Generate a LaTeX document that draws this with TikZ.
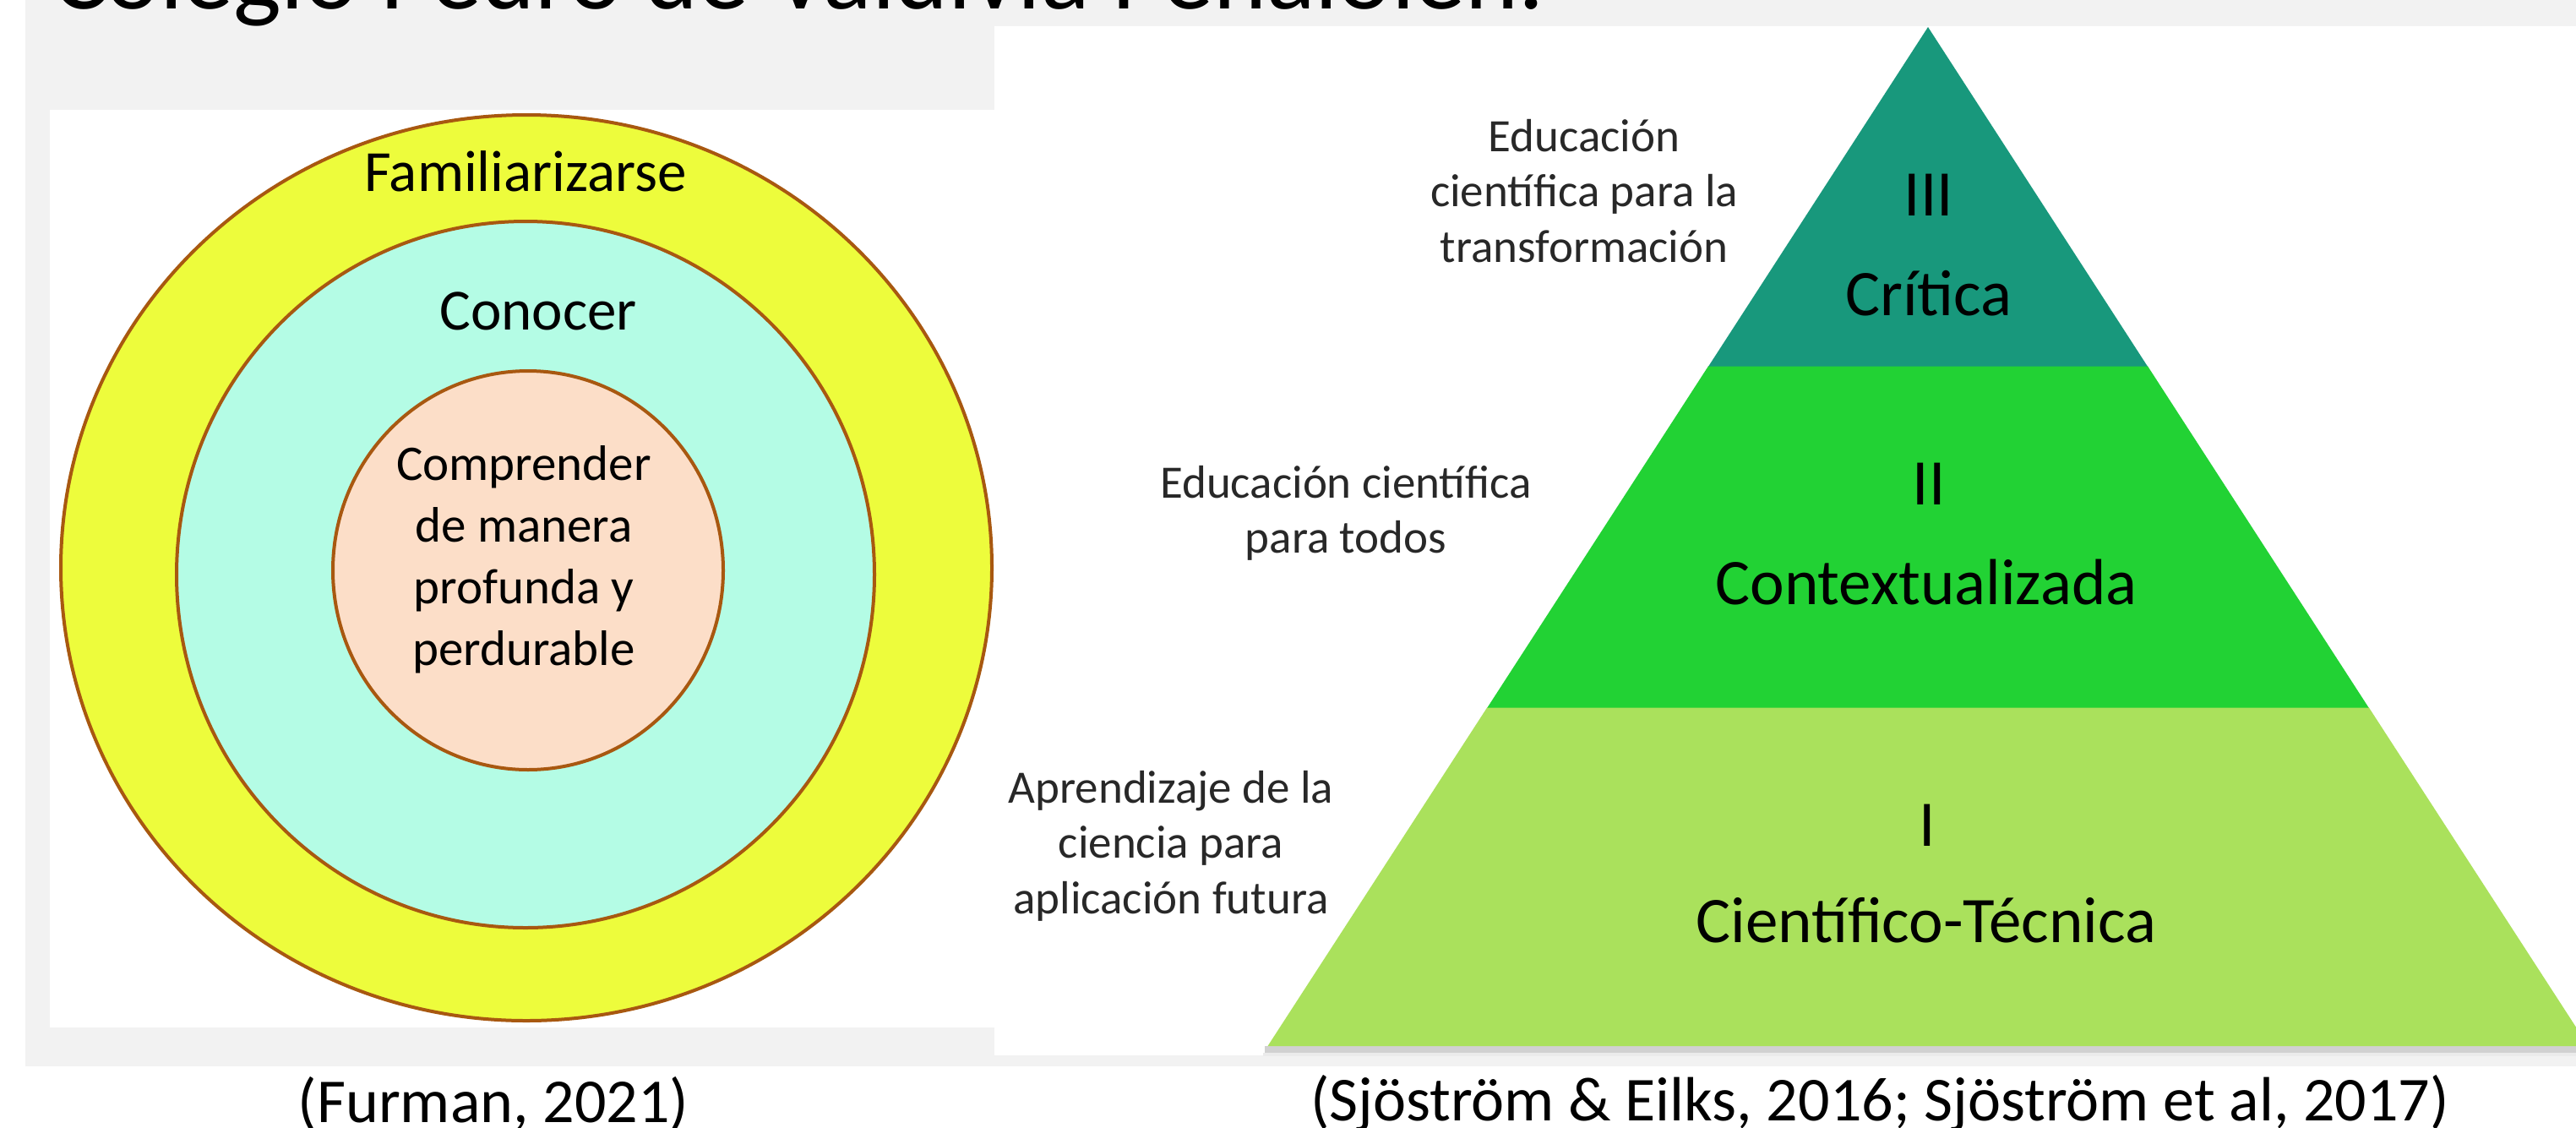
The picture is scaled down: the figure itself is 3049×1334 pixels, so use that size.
\documentclass[tikz,border=0pt]{standalone}
\usepackage{fontspec}
\setmainfont{Carlito}
\definecolor{bggray}{RGB}{242,242,242}
\definecolor{ringY}{RGB}{237,252,60}
\definecolor{ringA}{RGB}{180,252,229}
\definecolor{ringP}{RGB}{252,222,200}
\definecolor{ringline}{RGB}{168,88,16}
\definecolor{tierT}{RGB}{24,152,124}
\definecolor{tierG}{RGB}{34,210,52}
\definecolor{tierL}{RGB}{170,225,92}
\definecolor{labelgray}{RGB}{40,40,40}
\begin{document}
\begin{tikzpicture}[x=1pt,y=-1pt,
  every node/.style={inner sep=0pt,outer sep=0pt},
  ring/.style={draw=ringline,line width=4pt},
  ringtext/.style={anchor=base,font=\fontsize{69}{83}\selectfont},
  innertext/.style={anchor=base,font=\fontsize{59}{73}\selectfont},
  sidelab/.style={anchor=base,text=labelgray,font=\fontsize{55}{65.5}\selectfont},
  tiertext/.style={anchor=base,font=\fontsize{77}{92}\selectfont},
  captext/.style={anchor=base,font=\fontsize{74}{89}\selectfont}]
\useasboundingbox (0,0) rectangle (3049,1334);
% backgrounds
\fill[white] (0,0) rectangle (3049,1334);
\fill[bggray] (30,0) rectangle (3049,1262);
\fill[white] (59,130) rectangle (1179,1216);
\fill[white] (1177,31) rectangle (3049,1249);
% title
\node[anchor=base west,font=\fontsize{120}{144}\selectfont] (title) at (62,10) {Colegio Pedro de Valdivia Peñalolén.};
% concentric rings
\draw[ring,fill=ringY] (623,672) ellipse [x radius=551,y radius=536];
\draw[ring,fill=ringA] (622,680) ellipse [x radius=413,y radius=418];
\draw[ring,fill=ringP] (625,675) ellipse [x radius=231,y radius=236];
\node[ringtext] (fam) at (622,226) {Familiarizarse};
\node[ringtext] (con) at (637,390) {Conocer};
\node[innertext] (comp) at (620,568) {\begin{tabular}[t]{@{}c@{}}Comprender\\de manera\\profunda y\\perdurable\end{tabular}};
% pyramid shadow
\fill[black!18] (1497,1238) -- (3066,1238) -- (3066,1246) -- (1497,1246) -- cycle;
\fill[black!8] (1495,1246) -- (3068,1246) -- (3068,1250) -- (1495,1250) -- cycle;
% pyramid tiers
\fill[tierL] (1760.4,837) -- (2803.6,837) -- (3063.5,1238) -- (1500.5,1238) -- cycle;
\fill[tierG] (2022.2,433) -- (2541.8,433) -- (2803.6,837.5) -- (1760.4,837.5) -- cycle;
\fill[tierT] (2282,32) -- (2541.8,433.5) -- (2022.2,433.5) -- cycle;
\node[tiertext] (n3) at (2283,255) {III};
\node[tiertext] (t3) at (2283,373) {Crítica};
\node[tiertext] (n2) at (2283,597) {II};
\node[tiertext] (t2) at (2280,715) {Contextualizada};
\node[tiertext] (n1) at (2281,1001) {I};
\node[tiertext] (t1) at (2280,1115) {Científico-Técnica};
% side labels
\node[sidelab] (s3) at (1875,179) {\begin{tabular}[t]{@{}c@{}}Educación\\científica para la\\transformación\end{tabular}};
\node[sidelab] (s2) at (1593,589) {\begin{tabular}[t]{@{}c@{}}Educación científica\\para todos\end{tabular}};
\node[sidelab] (s1) at (1386,950) {\begin{tabular}[t]{@{}c@{}}Aprendizaje de la\\ciencia para\\aplicación futura\end{tabular}};
% captions
\node[captext] (cap1) at (584,1328) {(Furman, 2021)};
\node[captext] (cap2) at (2225,1326) {(Sjöström \& Eilks, 2016; Sjöström et al, 2017)};
\end{tikzpicture}
\end{document}
